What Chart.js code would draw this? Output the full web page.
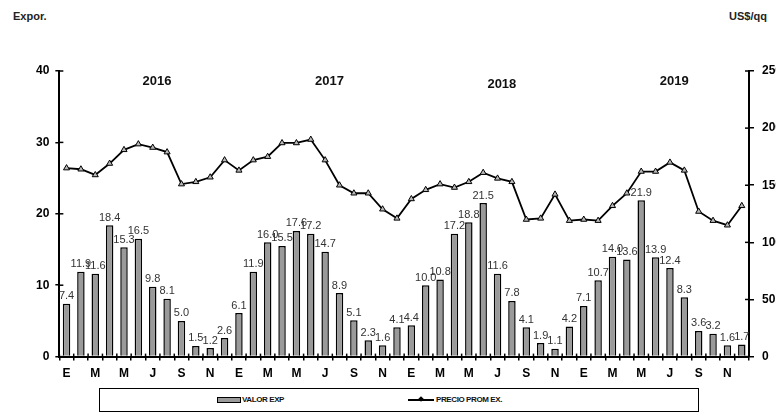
<!DOCTYPE html>
<html>
<head>
<meta charset="utf-8">
<script src="https://cdn.jsdelivr.net/npm/chart.js@4.4.0/dist/chart.umd.min.js"></script>
<style>
  html, body { margin: 0; padding: 0; background: #fff; overflow: hidden; width: 776px; height: 413px; }
  #wrap { position: absolute; left: 0; top: 0; width: 796px; height: 388px; }
  .axisTitle { position: absolute; top: 10px; font: bold 11px "Liberation Sans", Arial, sans-serif; color: #222; }
  #legend { position: absolute; left: 99px; top: 388px; width: 600px; height: 24px; border: 1.5px solid #000; box-sizing: border-box;
            font: bold 8px "Liberation Sans", Arial, sans-serif; color: #111; letter-spacing: -0.4px; }
  .item { position: absolute; top: 6px; white-space: nowrap; }
  .barSym { display: inline-block; width: 22px; height: 4px; border: 1px solid #000; background: #9a9a9a; vertical-align: middle; margin-right: 1px; }
  .lineSym { display: inline-block; width: 26px; height: 1.5px; background: #000; vertical-align: middle; position: relative; margin-right: 2px; }
  .lineSym::after { content: ''; position: absolute; left: 11px; top: -2px; width: 4px; height: 4px; background: #000; transform: rotate(45deg); }
</style>
</head>
<body>
<div class="axisTitle" style="left:13px">Expor.</div>
<div class="axisTitle" style="left:729px">US$/qq</div>
<div id="wrap"><canvas id="chart" width="796" height="388"></canvas></div>
<div id="legend">
  <span class="item" style="left:117px"><span class="barSym"></span>VALOR EXP</span>
  <span class="item" style="left:308px"><span class="lineSym"></span>PRECIO PROM EX.</span>
</div>
<script>
const years = ['2016', '2017', '2018', '2019'];
const monthInitials = ['E', 'F', 'M', 'A', 'M', 'J', 'J', 'A', 'S', 'O', 'N', 'D'];
const labels = years.flatMap(() => monthInitials);

// exportaciones (eje izquierdo)
const valorExp = [
  7.4, 11.9, 11.6, 18.4, 15.3, 16.5, 9.8, 8.1, 5.0, 1.5, 1.2, 2.6,
  6.1, 11.9, 16.0, 15.5, 17.6, 17.2, 14.7, 8.9, 5.1, 2.3, 1.6, 4.1,
  4.4, 10.0, 10.8, 17.2, 18.8, 21.5, 11.6, 7.8, 4.1, 1.9, 1.1, 4.2,
  7.1, 10.7, 14.0, 13.6, 21.9, 13.9, 12.4, 8.3, 3.6, 3.2, 1.6, 1.7
];

// precio promedio US$/qq (eje derecho)
const precioProm = [
  165, 164, 159, 169, 181, 186, 183, 179, 151, 153, 157, 172,
  163, 172, 175, 187, 187, 190, 172, 150, 143, 143, 129, 121,
  138, 146, 151, 148, 153, 161, 156, 153, 120, 121, 142, 119,
  120, 119, 132, 143, 162, 162, 170, 163, 127, 119, 115, 132
];

const leftTicks = [0, 10, 20, 30, 40];
const rightTicks = [0, 50, 100, 150, 200, 250];

const FONT = '"Liberation Sans", Arial, sans-serif';

const decor = {
  id: 'decor',
  afterDraw(chart) {
    const { ctx, chartArea } = chart;
    const x = chart.scales.x, y = chart.scales.y, y1 = chart.scales.y1;
    ctx.save();
    ctx.strokeStyle = '#000';
    ctx.lineWidth = 1.5;
    // inner halves of the tick marks
    y.ticks.forEach((t, i) => {
      const py = y.getPixelForTick(i);
      ctx.beginPath(); ctx.moveTo(chartArea.left, py); ctx.lineTo(chartArea.left + 4, py); ctx.stroke();
    });
    y1.ticks.forEach((t, i) => {
      const py = y1.getPixelForTick(i);
      ctx.beginPath(); ctx.moveTo(chartArea.right - 4, py); ctx.lineTo(chartArea.right, py); ctx.stroke();
    });
    for (let i = 0; i <= labels.length; i++) {
      const px = x.getPixelForValue(i - 0.5);
      ctx.beginPath(); ctx.moveTo(px, chartArea.bottom); ctx.lineTo(px, chartArea.bottom - 3); ctx.stroke();
    }
    // bar values
    ctx.fillStyle = '#333';
    ctx.font = '11px ' + FONT;
    ctx.textAlign = 'center';
    ctx.textBaseline = 'bottom';
    const meta = chart.getDatasetMeta(1);
    meta.data.forEach((bar, i) => {
      ctx.fillText(valorExp[i].toFixed(1), bar.x, bar.y - 2);
    });
    // years
    ctx.fillStyle = '#111';
    ctx.font = 'bold 13px ' + FONT;
    ctx.textBaseline = 'middle';
    years.forEach((yr, k) => {
      ctx.fillText(yr, x.getPixelForValue(k * 12 + 6.3), y.getPixelForValue(k === 2 ? 38.1 : 38.6));
    });
    ctx.restore();
  }
};

new Chart(document.getElementById('chart'), {
  data: {
    labels,
    datasets: [
      {
        type: 'line',
        label: 'PRECIO PROM EX.',
        data: precioProm,
        yAxisID: 'y1',
        borderColor: '#000',
        borderWidth: 1.8,
        tension: 0,
        pointStyle: 'triangle',
        pointRadius: 3.5,
        pointBackgroundColor: '#b8b8b8',
        pointBorderColor: '#000',
        pointBorderWidth: 1,
        order: 0
      },
      {
        type: 'bar',
        label: 'VALOR EXP',
        data: valorExp,
        yAxisID: 'y',
        backgroundColor: '#9a9a9a',
        borderColor: '#000',
        borderWidth: 1.5,
        barPercentage: 0.52,
        categoryPercentage: 1,
        order: 1
      }
    ]
  },
  options: {
    responsive: false,
    animation: false,
    layout: { padding: { left: 30, right: 6, top: 71, bottom: 1 } },
    plugins: { legend: { display: false }, tooltip: { enabled: false } },
    scales: {
      x: {
        offset: true,
        grid: { display: true, drawOnChartArea: false, offset: true, tickLength: 4, color: '#000', lineWidth: 1.5 },
        border: { color: '#000', width: 2 },
        ticks: {
          autoSkip: false, maxRotation: 0, padding: 6, color: '#000',
          font: { family: FONT, weight: 'bold', size: 12 },
          callback: (v, i) => (i % 2 === 0 ? labels[i] : '')
        }
      },
      y: {
        position: 'left',
        min: 0, max: 40,
        afterBuildTicks: s => { s.ticks = leftTicks.map(v => ({ value: v })); },
        grid: { drawOnChartArea: false, tickLength: 4, color: '#000', lineWidth: 1.5 },
        border: { color: '#000', width: 2 },
        ticks: { padding: 6, color: '#000', font: { family: FONT, weight: 'bold', size: 12 } }
      },
      y1: {
        position: 'right',
        min: 0, max: 250,
        afterBuildTicks: s => { s.ticks = rightTicks.map(v => ({ value: v })); },
        grid: { drawOnChartArea: false, tickLength: 5, color: '#000', lineWidth: 1.5 },
        border: { color: '#000', width: 2 },
        ticks: { padding: 8, color: '#000', font: { family: FONT, weight: 'bold', size: 12 } }
      }
    }
  },
  plugins: [decor]
});
</script>
</body>
</html>
